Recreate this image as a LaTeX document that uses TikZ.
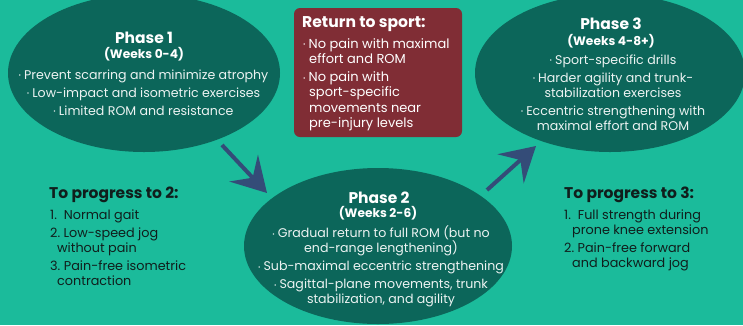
\documentclass[tikz,border=0pt]{standalone}
\usepackage{fontspec}
\setmainfont{Poppins}
\usetikzlibrary{arrows.meta,shapes.geometric}

\definecolor{bgteal}{RGB}{27,187,155}
\definecolor{phasefill}{RGB}{12,102,90}
\definecolor{sportred}{RGB}{128,45,53}
\definecolor{arrowblue}{RGB}{52,76,120}
\definecolor{darktext}{RGB}{16,30,28}

% small bullet used in the lists
\newcommand{\bul}{{\fontsize{6}{6}\selectfont\raisebox{0.4ex}{•}}\hspace{3pt}}

\tikzset{
  phase/.style={ellipse, fill=phasefill, inner sep=0pt},
  phasetitle/.style={text=white, font=\bfseries\fontsize{15.5}{18}\selectfont},
  weeks/.style={text=white, font=\bfseries\fontsize{12.2}{14}\selectfont},
  phasebody/.style={text=white!92!phasefill, align=center, inner sep=0pt,
                    font=\fontsize{12.6}{15}\selectfont},
  sportbox/.style={fill=sportred, rounded corners=6pt, inner sep=0pt},
  sporthead/.style={text=white, font=\bfseries\fontsize{15.6}{17}\selectfont, inner sep=0pt},
  sportbody/.style={text=white, align=left, inner sep=0pt, font=\fontsize{13}{15.2}\selectfont},
  proghead/.style={text=darktext, font=\bfseries\fontsize{15.5}{17}\selectfont, inner sep=0pt},
  progbody/.style={text=darktext, align=left, inner sep=0pt, font=\fontsize{12.8}{15}\selectfont},
  flow/.style={draw=arrowblue, line width=4pt,
               -{Stealth[length=34pt, width=39pt, inset=13pt]}}
}

\begin{document}
\begin{tikzpicture}[x=1pt, y=-1pt]
  \useasboundingbox (0,0) rectangle (743,325);
  \fill[bgteal] (0,0) rectangle (743,325);

  % phase ellipses
  \node[phase, minimum width=272pt, minimum height=158pt] (p1) at (144,73) {};
  \node[phase, minimum width=268pt, minimum height=156pt] (p2) at (378,246) {};
  \node[phase, minimum width=270pt, minimum height=158pt] (p3) at (610,73) {};

  % return-to-sport box
  \node[sportbox, minimum width=168pt, minimum height=129pt] (sport) at (378,72.5) {};

  % phase 1 text
  \node[phasetitle] (t1) at (144,38) {Phase 1};
  \node[weeks] (w1) at (144,54) {(Weeks 0-4)};
  \node[phasebody] (b1) at (143.5,92.5) {\bul Prevent scarring and minimize atrophy\\[3pt]
    \bul Low-impact and isometric exercises\\[3pt]
    \bul Limited ROM and resistance};

  % phase 2 text
  \node[phasetitle] (t2) at (379,198) {Phase 2};
  \node[weeks] (w2) at (378,213) {(Weeks 2-6)};
  \node[phasebody] (b2) at (381,266.5) {\bul Gradual return to full ROM (but no\\
    end-range lengthening)\\[3pt]
    \bul Sub-maximal eccentric strengthening\\[3pt]
    \bul Sagittal-plane movements, trunk\\
    stabilization, and agility};

  % phase 3 text
  \node[phasetitle] (t3) at (611,24) {Phase 3};
  \node[weeks] (w3) at (611,41) {(Weeks 4-8+)};
  \node[phasebody] (b3) at (613,92.5) {\bul Sport-specific drills\\[3pt]
    \bul Harder agility and trunk-\\
    stabilization exercises\\[3pt]
    \bul Eccentric strengthening with\\
    maximal effort and ROM};

  % return-to-sport text
  \node[sporthead, anchor=west] (sh) at (302,24) {Return to sport:};
  \node[sportbody, anchor=west] (sb) at (303,84.5) {\bul No pain with maximal\\
    \hspace{6pt}effort and ROM\\[3pt]
    \bul No pain with\\
    \hspace{6pt}sport-specific\\
    \hspace{6pt}movements near\\
    \hspace{6pt}pre-injury levels};

  % progression criteria
  \node[proghead, anchor=west] (g2) at (49,195) {To progress to 2:};
  \node[progbody, anchor=west] (l2) at (50,248) {1.\ \ Normal gait\\[3pt]
    2.\ Low-speed jog\\
    \hspace{7pt}without pain\\[3pt]
    3.\ Pain-free isometric\\
    \hspace{7pt}contraction};

  \node[proghead, anchor=west] (g3) at (564,195) {To progress to 3:};
  \node[progbody, anchor=west] (l3) at (564,240) {1.\ \ Full strength during\\
    \hspace{8pt}prone knee extension\\[3pt]
    2.\ Pain-free forward\\
    \hspace{8pt}and backward jog};

  % transitions between phases
  \coordinate (a1s) at (222,145);
  \coordinate (a1e) at (267,193);
  \coordinate (a2s) at (487,190);
  \coordinate (a2e) at (536,146);
  \draw[flow] (a1s) -- (a1e);
  \draw[flow] (a2s) -- (a2e);
\end{tikzpicture}
\end{document}
